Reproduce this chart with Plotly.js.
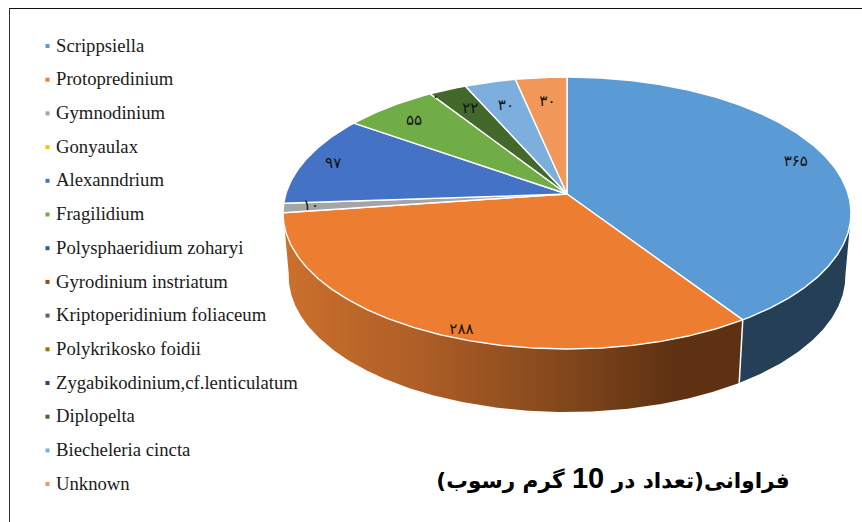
<!DOCTYPE html>
<html><head><meta charset="utf-8">
<script src="https://cdn.plot.ly/plotly-3.0.1.min.js"></script>
<style>html,body{margin:0;padding:0;background:#fff;overflow:hidden}#c{width:862px;height:522px}</style>
</head><body><div id="c"></div>
<script>
// ---- data ----
const categories = ["Scrippsiella","Protopredinium","Gymnodinium","Gonyaulax","Alexanndrium","Fragilidium","Polysphaeridium zoharyi","Gyrodinium instriatum","Kriptoperidinium foliaceum","Polykrikosko foidii","Zygabikodinium,cf.lenticulatum","Diplopelta","Biecheleria cincta","Unknown"];
const values = [365,288,10,0,97,55,0,0,0,0,0,22,30,30];
const valueLabels = ["۳۶۵","۲۸۸","۱۰","","۹۷","۵۵","۰","","","","","۲۲","۳۰","۳۰"];
const chartTitle = "فراوانی(تعداد در <span style='font-family:Liberation Sans;font-size:29px'>10</span> گرم رسوب)";
// ---- styles ----
const colors = ["#5B9BD5","#ED7D31","#A5A5A5","#FFC000","#4472C4","#70AD47","#255E91","#9E480E","#636363","#997300","#264478","#43682B","#7CAFDD","#F1975A"];
const blueSide = "#243F56";
const orangeSide = [[0,"#CC702C"],[0.3,"#AE5E26"],[0.6,"#84481C"],[0.85,"#5E3113"],[1,"#5E3113"]];
const labelNudge = [[-5,2],[12,13],[-1,0],null,[2,1],[8,6],[-7,-6],null,null,null,null,[12,10],[9,14],[4,14]];
// ---- projection of the tilted disc ----
const C = {x:567,y:194,a:281.2,b:133.3,k:0.14,depth:63,shrink:0.98,cx:567};
const rad = d => d*Math.PI/180;
function rimTop(theta,r=1){
  const u=r*Math.sin(rad(theta)), v=r*Math.cos(rad(theta)), w=1+C.k*v;
  return [C.x+C.a*u/w, C.y-C.b*v/w];
}
function rimBottom(theta){
  const p=rimTop(theta);
  return [C.cx+(p[0]-C.cx)*C.shrink, p[1]+C.depth];
}
function arc(fn,a,b){
  const n=Math.max(2,Math.ceil(Math.abs(b-a)/0.5)), out=[];
  for(let i=0;i<=n;i++) out.push(fn(a+(b-a)*i/n));
  return out;
}
const total = values.reduce((s,v)=>s+v,0);
let acc=0;
const spans = values.map(v=>{const s=acc*360/total; acc+=v; return [s,acc*360/total];});

const traces=[];
// side wall: visible between the silhouette extremes
const rightEnd = Math.acos(-C.k)*180/Math.PI, leftEnd = 360-rightEnd;
function wall(a,b,extra){
  const pts = arc(rimTop,a,b).concat(arc(rimBottom,b,a));
  pts.push(pts[0]);
  traces.push(Object.assign({type:"scatter",mode:"lines",x:pts.map(p=>p[0]),y:pts.map(p=>p[1]),
    line:{width:0},fill:"toself",hoverinfo:"skip",showlegend:false},extra));
}
wall(rightEnd,spans[0][1],{fillcolor:blueSide});
wall(spans[1][0],leftEnd+1,{fillcolor:"#A0561F",fillgradient:{type:"horizontal",colorscale:orangeSide}});
const d0=rimTop(spans[0][1]), d1=rimBottom(spans[0][1]);
traces.push({type:"scatter",mode:"lines",x:[d0[0],d1[0]],y:[d0[1],d1[1]],line:{color:"#fff",width:1.5},hoverinfo:"skip",showlegend:false});
// top face
values.forEach((v,i)=>{
  if(v<=0) return;
  const pts=[[C.x,C.y]].concat(arc(rimTop,spans[i][0],spans[i][1]));
  pts.push([C.x,C.y]);
  traces.push({type:"scatter",mode:"lines",name:categories[i],x:pts.map(p=>p[0]),y:pts.map(p=>p[1]),
    fill:"toself",fillcolor:colors[i],line:{color:"#fff",width:1.4},hoverinfo:"name",showlegend:false});
});
// value labels
const lx=[],ly=[],lt=[];
values.forEach((v,i)=>{
  if(!valueLabels[i]||!labelNudge[i]) return;
  const p=rimTop((spans[i][0]+spans[i][1])/2,0.9);
  lx.push(p[0]+labelNudge[i][0]); ly.push(p[1]+labelNudge[i][1]); lt.push(valueLabels[i]);
});
traces.push({type:"scatter",mode:"text",x:lx,y:ly,text:lt,textposition:"middle center",
  textfont:{family:"'DejaVu Sans'",size:15,color:"#111"},hoverinfo:"skip",showlegend:false});
// key
const rowY = categories.map((c,i)=>46+i*33.7);
traces.push({type:"scatter",mode:"markers",x:categories.map(()=>47.5),y:rowY,
  marker:{symbol:"square",size:4,color:colors},hoverinfo:"skip",showlegend:false});
traces.push({type:"scatter",mode:"text",x:categories.map(()=>56),y:rowY.map(y=>y+1),text:categories,
  textposition:"middle right",cliponaxis:false,
  textfont:{family:"'Liberation Serif'",size:18.7,color:"#1a1a1a"},hoverinfo:"skip",showlegend:false});

const layout={
  width:862,height:522,margin:{l:0,r:0,t:0,b:0},paper_bgcolor:"#fff",plot_bgcolor:"#fff",showlegend:false,
  xaxis:{range:[0,862],visible:false,fixedrange:true},
  yaxis:{range:[522,0],visible:false,fixedrange:true},
  title:{text:chartTitle,font:{family:"'DejaVu Sans'",size:21.6,color:"#000",weight:700},
    x:613/862,xref:"paper",xanchor:"center",y:1-480/522,yref:"paper",yanchor:"middle"},
  shapes:[
    {type:"line",xref:"x",yref:"y",x0:9,x1:862,y0:8.5,y1:8.5,line:{color:"#111",width:1}},
    {type:"line",xref:"x",yref:"y",x0:9.5,x1:9.5,y0:8,y1:522,line:{color:"#333",width:1}}
  ]
};
Plotly.newPlot("c",traces,layout,{displayModeBar:false,responsive:false});
</script></body></html>
